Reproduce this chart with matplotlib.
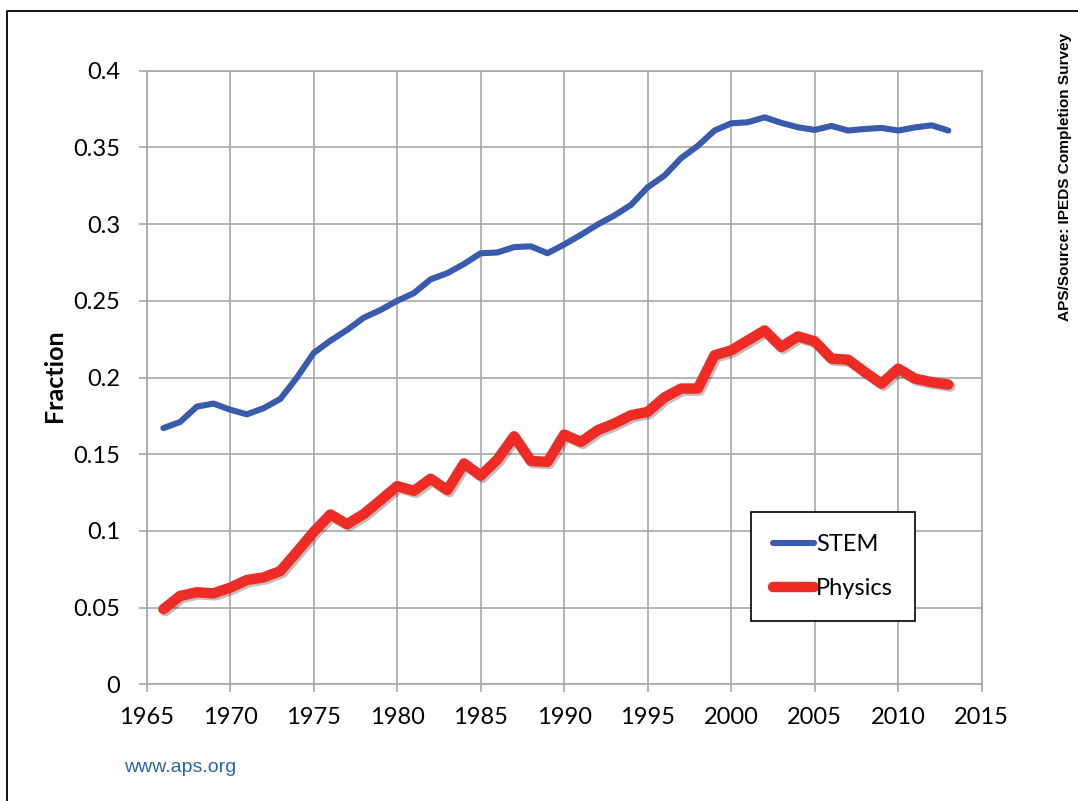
import numpy as np
import matplotlib
matplotlib.use("Agg")
from matplotlib import pyplot as plt
from matplotlib import patheffects as pe
from matplotlib.lines import Line2D

years = list(range(1966, 2014))

stem = [0.167, 0.171, 0.181, 0.183, 0.179, 0.176, 0.180, 0.186, 0.200, 0.216,
        0.224, 0.231, 0.239, 0.244, 0.250, 0.255, 0.264, 0.268, 0.274, 0.281,
        0.2815, 0.285, 0.2855, 0.281, 0.2867, 0.293, 0.2997, 0.3056, 0.3125, 0.324,
        0.3316, 0.343, 0.351, 0.361, 0.3657, 0.3664, 0.3696, 0.366, 0.3631, 0.3614,
        0.364, 0.361, 0.362, 0.3627, 0.361, 0.363, 0.3644, 0.361]

physics = [0.049, 0.0576, 0.060, 0.0593, 0.063, 0.068, 0.0697, 0.0738, 0.0864, 0.0994,
           0.1107, 0.1044, 0.111, 0.120, 0.1292, 0.1261, 0.134, 0.1266, 0.144, 0.136,
           0.1465, 0.1617, 0.1456, 0.145, 0.1628, 0.158, 0.1656, 0.170, 0.1754, 0.1776,
           0.187, 0.1928, 0.1928, 0.2145, 0.2177, 0.2242, 0.2307, 0.2199, 0.2268, 0.2236,
           0.2123, 0.2116, 0.2036, 0.196, 0.2058, 0.1993, 0.197, 0.1954]

xticks = [1965, 1970, 1975, 1980, 1985, 1990, 1995, 2000, 2005, 2010, 2015]
yticks = [0, 0.05, 0.1, 0.15, 0.2, 0.25, 0.3, 0.35, 0.4]
ytick_labels = ["0", "0.05", "0.1", "0.15", "0.2", "0.25", "0.3", "0.35", "0.4"]

blue = "#3a5aad"
red = "#ee2b24"
grid_gray = "#a8a8a8"

W, H = 1078, 801
fig = plt.figure(figsize=(W / 100, H / 100), dpi=100)
ax = fig.add_axes([146.7 / W, 1 - 684.3 / H, (981.7 - 146.7) / W, (684.3 - 70.7) / H])

ax.plot(years, stem, color=blue, lw=4.4, solid_capstyle="round", solid_joinstyle="round", zorder=3)
ax.plot(years, physics, color=red, lw=7.5, solid_capstyle="round", solid_joinstyle="round", zorder=4,
        path_effects=[pe.SimpleLineShadow(offset=(1.5, -1.5), shadow_color="k", alpha=0.25),
                      pe.Normal()])

ax.set_xlim(1965, 2015)
ax.set_ylim(0, 0.4)
ax.set_xticks(xticks)
ax.set_yticks(yticks)
ax.set_yticklabels(ytick_labels)
ax.grid(True, color=grid_gray, lw=1.2)
ax.set_axisbelow(True)
for s in ax.spines.values():
    s.set_color(grid_gray)
    s.set_linewidth(1.2)
ax.tick_params(axis="both", direction="out", length=6, width=1.2, color=grid_gray,
               labelsize=17, labelcolor="black")
ax.tick_params(axis="y", pad=13)
ax.tick_params(axis="x", pad=10)
for lab in ax.get_xticklabels() + ax.get_yticklabels():
    lab.set_fontfamily("Lato")

fig.text(54 / W, 1 - 376 / H, "Fraction", rotation=90, ha="center", va="center",
         fontsize=18, fontweight="bold", family="Lato")
fig.text(1065 / W, 1 - 177 / H, "APS/Source: IPEDS Completion Survey", rotation=90,
         ha="center", va="center", fontsize=11.1, fontweight="bold", family="Liberation Sans")
fig.text(124 / W, 1 - 768 / H, "www.aps.org", ha="left", va="center", fontsize=14,
         color="#2a64ae", family="Liberation Sans")

# outer frame, open on the right and bottom
fig.add_artist(Line2D([7 / W, 7 / W, 1.0], [0.0, 1 - 11 / H, 1 - 11 / H],
                      transform=fig.transFigure, color="black", lw=1.3))

handles = [Line2D([], [], color=blue, lw=4.4, solid_capstyle="round"),
           Line2D([], [], color=red, lw=7.5, solid_capstyle="round")]
leg = fig.legend(handles, ["STEM", "Physics"], loc="upper left",
                 bbox_to_anchor=(751 / W, 1 - 512 / H), fancybox=False, shadow=False,
                 framealpha=1, edgecolor="black", handlelength=1.7, handletextpad=0.1,
                 labelspacing=0.95, borderpad=0.95, borderaxespad=0,
                 prop={"family": "Lato", "size": 17})
leg.get_frame().set_linewidth(1.2)

fig.savefig("out.png", dpi=100)
